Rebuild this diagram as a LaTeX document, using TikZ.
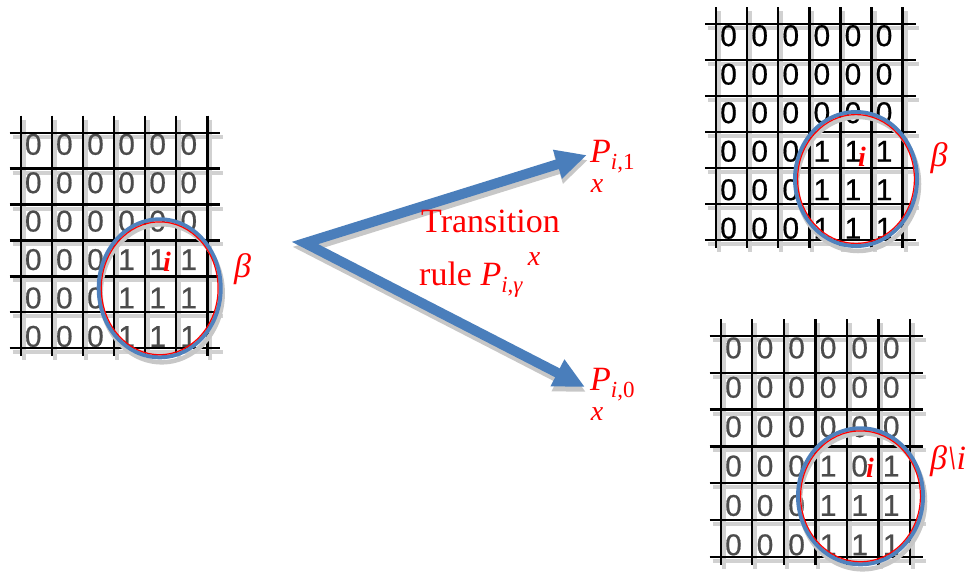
\documentclass[tikz,border=0pt]{standalone}
\usepackage{fontspec}
\setmainfont{Liberation Serif}
\newfontfamily\digitfont[FakeBold=0.6]{Liberation Sans}
\usetikzlibrary{arrows.meta}
\definecolor{arrowblue}{HTML}{4A7EBB}
\definecolor{ringblue}{HTML}{4F81BD}
\definecolor{labred}{HTML}{FF0000}
\tikzset{
  gridline/.style={line width=2.4pt, black},
  gridshadow/.style={line width=4pt, black!18},
  digit/.style={font=\digitfont\fontsize{30}{30}\selectfont, inner sep=0pt},
  ring/.style={line width=4pt, ringblue},
  ringred/.style={line width=1.2pt, labred},
  ringshadow/.style={line width=4.5pt, black!22},
  flow/.style={line width=10pt, arrowblue, line join=miter,
    arrows={Triangle[length=31pt,width=28pt]-Triangle[length=31pt,width=28pt]}},
  flowshadow/.style={line width=10pt, black!22, line join=miter,
    arrows={Triangle[length=31pt,width=28pt]-Triangle[length=31pt,width=28pt]}},
  lab/.style={text=labred, font=\fontsize{34}{40}\selectfont, inner sep=0pt},
  labx/.style={text=labred, font=\fontsize{28}{32}\selectfont\itshape, inner sep=0pt},
  ilabel/.style={text=labred, font=\fontsize{28}{32}\selectfont\bfseries\itshape, inner sep=0pt},
}
\newcommand\subs[1]{\raisebox{-7pt}{\fontsize{23}{23}\selectfont #1}}
% #1 x0, #2 dx, #3 y0, #4 dy, #5 digit colour, #6 matrix, #7 name prefix
\newcommand\cellgrid[7]{%
  \foreach \k in {0,...,6}{%
    \draw[gridshadow] ({#1+\k*#2+3},{#3-17+4}) -- ({#1+\k*#2+3},{#3+6*#4+8+4});
    \draw[gridshadow] ({#1-11+3},{#3+\k*#4+4}) -- ({#1+6*#2+13+3},{#3+\k*#4+4});
  }
  \foreach \row [count=\r from 0] in {#6}{%
    \foreach \d [count=\c from 0] in \row {%
      \node[digit, text=#5] (#7-\r-\c) at ({#1+(\c+0.5)*#2-3},{#3+3*#4+(\r-2.5)*#4*1.07}) {\d};
    }
  }
  \foreach \k in {0,...,6}{%
    \draw[gridline] ({#1+\k*#2},{#3-17}) -- ({#1+\k*#2},{#3+6*#4+8});
    \draw[gridline] ({#1-11},{#3+\k*#4}) -- ({#1+6*#2+13},{#3+\k*#4});
  }
}
\newcommand\neighbourhood[4]{% centre x, centre y, rx, ry
  \draw[ringshadow] ({#1+2},{#2+5}) ellipse [x radius=#3, y radius=#4];
  \draw[ring] (#1,#2) ellipse [x radius=#3, y radius=#4];
  \draw[ringred] (#1,#2) ellipse [x radius={#3-2.6}, y radius={#4-2.6}];
}
\begin{document}
\begin{tikzpicture}[x=1pt,y=-1pt]
\useasboundingbox (0,0) rectangle (965,576);

% left grid
\cellgrid{20.7}{31.1}{132.7}{35.9}{black!70}{{0,0,0,0,0,0},{0,0,0,0,0,0},{0,0,0,0,0,0},{0,0,0,1,1,1},{0,0,0,1,1,1},{0,0,0,1,1,1}}{L}
\neighbourhood{159.7}{288.3}{61}{69}
\node[ilabel] (Li) at (167,262) {i};
\node[lab, font=\fontsize{34}{40}\selectfont\itshape] (Lb) at (242.5,269) {β};

% top-right grid
\cellgrid{716}{31.1}{24}{36}{black}{{0,0,0,0,0,0},{0,0,0,0,0,0},{0,0,0,0,0,0},{0,0,0,1,1,1},{0,0,0,1,1,1},{0,0,0,1,1,1}}{T}
\neighbourhood{856}{179}{61}{67}
\node[ilabel] (Ti) at (862,157) {i};
\node[lab, font=\fontsize{34}{40}\selectfont\itshape] (Tb) at (939,158) {β};

% bottom-right grid
\cellgrid{720.7}{31.55}{336}{36.8}{black!70}{{0,0,0,0,0,0},{0,0,0,0,0,0},{0,0,0,0,0,0},{0,0,0,1,0,1},{0,0,0,1,1,1},{0,0,0,1,1,1}}{B}
\neighbourhood{860.5}{496.3}{62.5}{68}
\node[ilabel] (Bi) at (870,468) {i};
\node[lab, font=\fontsize{34}{40}\selectfont\itshape, anchor=west] (Bb) at (930,461) {β\textbackslash i};

% arrows
\coordinate (apex) at (305,243);
\coordinate (tip1) at (587,155);
\coordinate (tip0) at (585,387);
\draw[flowshadow] ([shift={(1,5)}]tip1) -- ([shift={(1,5)}]apex) -- ([shift={(1,5)}]tip0);
\draw[flow] (tip1) -- (apex) -- (tip0);

% labels
\node[lab, anchor=base west] (p1) at (590,162) {\textit{P}\subs{\textit{i},1}};
\node[labx] (x1) at (597,186) {x};
\node[lab, anchor=base west] (p0) at (590,390) {\textit{P}\subs{\textit{i},0}};
\node[labx] (x0) at (597,414) {x};
\node[lab, anchor=base west] (tr1) at (421,232) {Transition};
\node[lab, anchor=base west] (tr2) at (419,285) {rule \textit{P}\subs{\textit{i},\textit{γ}}};
\node[labx] (xg) at (534,259) {x};
\end{tikzpicture}
\end{document}
